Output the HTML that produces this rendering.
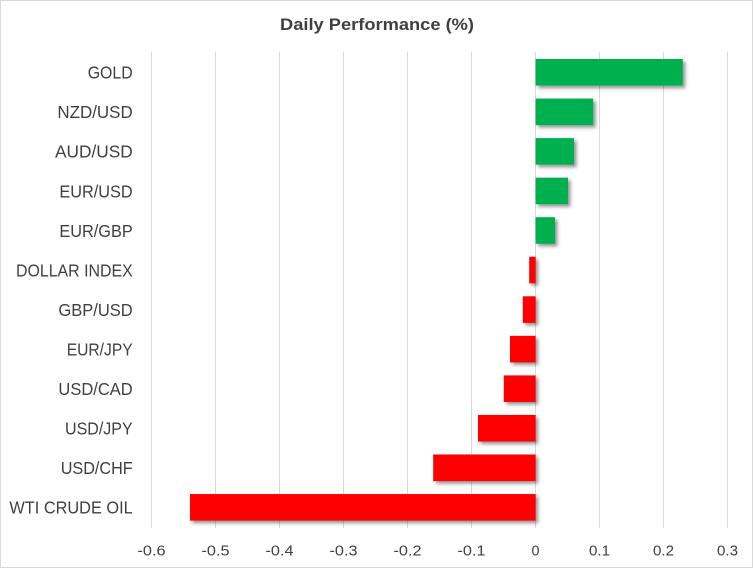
<!DOCTYPE html>
<html>
<head>
<meta charset="utf-8">
<style>
  html, body { margin: 0; padding: 0; background: #fff; }
  svg { display: block; }
  text { font-family: "Liberation Sans", Arial, sans-serif; fill: #404040; }
</style>
</head>
<body>
<svg width="753" height="568" viewBox="0 0 753 568" xmlns="http://www.w3.org/2000/svg">
  <defs>
    <filter id="sh" x="-20%" y="-30%" width="150%" height="180%">
      <feDropShadow dx="2.5" dy="2.5" stdDeviation="1.8" flood-color="#000" flood-opacity="0.42"/>
    </filter>
  </defs>
  <rect x="0" y="0" width="753" height="568" fill="#fff"/>
  <rect x="0.5" y="0.5" width="752" height="567" fill="none" stroke="#d9d9d9" stroke-width="1"/>

  <!-- title -->
  <text x="377" y="30" text-anchor="middle" font-size="17" font-weight="bold" textLength="194" lengthAdjust="spacingAndGlyphs">Daily Performance (%)</text>

  <!-- gridlines -->
  <g stroke="#d9d9d9" stroke-width="1">
    <line x1="151.5" y1="52" x2="151.5" y2="528"/>
    <line x1="215.5" y1="52" x2="215.5" y2="528"/>
    <line x1="279.5" y1="52" x2="279.5" y2="528"/>
    <line x1="343.5" y1="52" x2="343.5" y2="528"/>
    <line x1="407.5" y1="52" x2="407.5" y2="528"/>
    <line x1="471.5" y1="52" x2="471.5" y2="528"/>
    <line x1="535.5" y1="52" x2="535.5" y2="528"/>
    <line x1="599.5" y1="52" x2="599.5" y2="528"/>
    <line x1="663.5" y1="52" x2="663.5" y2="528"/>
    <line x1="727.5" y1="52" x2="727.5" y2="528"/>
  </g>

  <!-- bars -->
  <g filter="url(#sh)">
    <rect x="535.6" y="59" width="147.2" height="26.6" fill="#00B050"/>
    <rect x="535.6" y="98.55" width="57.6" height="26.6" fill="#00B050"/>
    <rect x="535.6" y="138.1" width="38.4" height="26.6" fill="#00B050"/>
    <rect x="535.6" y="177.65" width="32.4" height="26.6" fill="#00B050"/>
    <rect x="535.6" y="217.2" width="19.4" height="26.6" fill="#00B050"/>
    <rect x="529.2" y="256.75" width="6.4" height="26.6" fill="#FF0000"/>
    <rect x="522.8" y="296.3" width="12.8" height="26.6" fill="#FF0000"/>
    <rect x="510" y="335.85" width="25.6" height="26.6" fill="#FF0000"/>
    <rect x="503.8" y="375.4" width="31.8" height="26.6" fill="#FF0000"/>
    <rect x="478" y="414.95" width="57.6" height="26.6" fill="#FF0000"/>
    <rect x="433.2" y="454.5" width="102.4" height="26.6" fill="#FF0000"/>
    <rect x="190" y="494.05" width="345.6" height="26.6" fill="#FF0000"/>
  </g>

  <!-- category labels -->
  <g font-size="17.7" text-anchor="end">
    <text x="132.7" y="78.6" textLength="45" lengthAdjust="spacingAndGlyphs">GOLD</text>
    <text x="132.7" y="118.15" textLength="75.3" lengthAdjust="spacingAndGlyphs">NZD/USD</text>
    <text x="132.7" y="157.7" textLength="77.7" lengthAdjust="spacingAndGlyphs">AUD/USD</text>
    <text x="132.7" y="197.25" textLength="73.3" lengthAdjust="spacingAndGlyphs">EUR/USD</text>
    <text x="132.7" y="236.8" textLength="73.3" lengthAdjust="spacingAndGlyphs">EUR/GBP</text>
    <text x="132.7" y="276.35" textLength="116.7" lengthAdjust="spacingAndGlyphs">DOLLAR INDEX</text>
    <text x="132.7" y="315.9" textLength="74.3" lengthAdjust="spacingAndGlyphs">GBP/USD</text>
    <text x="132.7" y="355.45" textLength="66" lengthAdjust="spacingAndGlyphs">EUR/JPY</text>
    <text x="132.7" y="395" textLength="74.3" lengthAdjust="spacingAndGlyphs">USD/CAD</text>
    <text x="132.7" y="434.55" textLength="67.7" lengthAdjust="spacingAndGlyphs">USD/JPY</text>
    <text x="132.7" y="474.1" textLength="72" lengthAdjust="spacingAndGlyphs">USD/CHF</text>
    <text x="132.7" y="513.65" textLength="123.3" lengthAdjust="spacingAndGlyphs">WTI CRUDE OIL</text>
  </g>

  <!-- tick labels -->
  <g font-size="14.5" text-anchor="middle">
    <text x="151.5" y="555.5" textLength="28" lengthAdjust="spacingAndGlyphs">-0.6</text>
    <text x="215.5" y="555.5" textLength="28" lengthAdjust="spacingAndGlyphs">-0.5</text>
    <text x="279.5" y="555.5" textLength="28" lengthAdjust="spacingAndGlyphs">-0.4</text>
    <text x="343.5" y="555.5" textLength="28" lengthAdjust="spacingAndGlyphs">-0.3</text>
    <text x="407.5" y="555.5" textLength="28" lengthAdjust="spacingAndGlyphs">-0.2</text>
    <text x="471.5" y="555.5" textLength="28" lengthAdjust="spacingAndGlyphs">-0.1</text>
    <text x="535.5" y="555.5" textLength="8" lengthAdjust="spacingAndGlyphs">0</text>
    <text x="599.5" y="555.5" textLength="21" lengthAdjust="spacingAndGlyphs">0.1</text>
    <text x="663.5" y="555.5" textLength="21" lengthAdjust="spacingAndGlyphs">0.2</text>
    <text x="727.5" y="555.5" textLength="21" lengthAdjust="spacingAndGlyphs">0.3</text>
  </g>
</svg>
</body>
</html>
